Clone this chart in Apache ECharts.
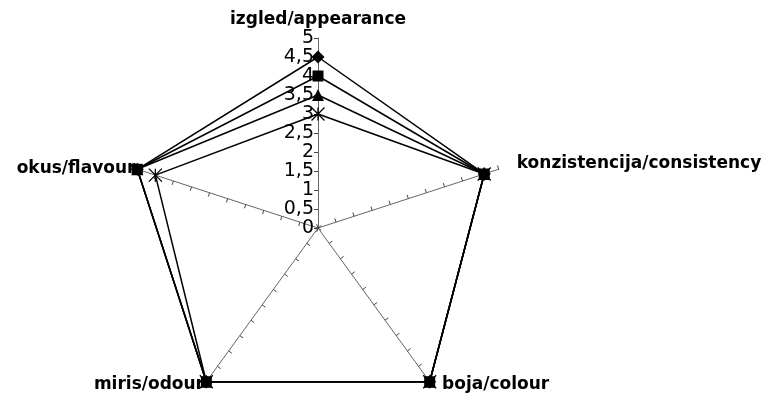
<!DOCTYPE html>
<html>
<head>
<meta charset="utf-8">
<script src="https://cdn.jsdelivr.net/npm/echarts@6/dist/echarts.min.js"></script>
<style>
  html, body { margin: 0; padding: 0; background: #fff; }
  #main { width: 776px; height: 400px; }
</style>
</head>
<body>
<div id="main"></div>
<script>
// indicator order: ECharts goes counterclockwise from the top
const indicatorNames = ['izgled/appearance', 'okus/flavour', 'miris/odour', 'boja/colour', 'konzistencija/consistency'];
const nameGaps = [10, 2, 4, 4, 19];

// values per series, same order as indicatorNames
const seriesDiamond = [4.5, 5, 5, 5, 4.6];
const seriesSquare = [4, 5, 5, 5, 4.6];
const seriesTriangle = [3.5, 5, 5, 5, 4.6];
const seriesStar = [3, 4.5, 5, 5, 4.6];

const axisMax = 5;

var chart = echarts.init(document.getElementById('main'));

// asterisk made of strokes only
const starPath = 'path://M0,0L10,10M10,0L0,10M5,0L5,10';

var indicators = indicatorNames.map(function (n, i) {
  var ind = { name: n, min: 0, max: axisMax, nameGap: nameGaps[i] };
  if (i > 0) {
    ind.axisLabel = { show: false };  // only the top spoke has numbers
  }
  if (i == 3) {
    ind.nameTextStyle = { padding: [0, 0, 0, 10] };
  }
  if (i == 4) {
    ind.nameTextStyle = { padding: [10, 0, 0, 0] };
  }
  return ind;
});

function makeSeries(values, symbol, size, extra) {
  var itemStyle = { color: '#000' };
  if (extra) {
    itemStyle = { color: '#000', borderColor: '#000', borderWidth: 1.3 };
  }
  return {
    value: values,
    symbol: symbol,
    symbolSize: size,
    itemStyle: itemStyle,
    lineStyle: { color: '#000', width: 1.5 }
  };
}

var option = {
  backgroundColor: '#fff',
  animation: false,
  radar: {
    center: [318, 228],
    radius: 190,
    splitNumber: 10,
    shape: 'polygon',
    axisName: {
      color: '#000',
      fontFamily: 'DejaVu Sans',
      fontWeight: 'bold',
      fontSize: 17
    },
    axisLine: { show: true, lineStyle: { color: '#666', width: 1 } },
    axisTick: { show: true, length: 4, lineStyle: { color: '#444' } },
    axisLabel: {
      show: true,
      color: '#000',
      fontFamily: 'DejaVu Sans',
      fontSize: 19,
      margin: 4,
      formatter: function (v) { return String(v).replace('.', ','); }
    },
    splitLine: { show: false },
    splitArea: { show: false },
    indicator: indicators
  },
  series: [{
    type: 'radar',
    silent: true,
    data: [
      makeSeries(seriesDiamond, 'diamond', 13),
      makeSeries(seriesSquare, 'rect', 11),
      makeSeries(seriesTriangle, 'triangle', 12),
      makeSeries(seriesStar, starPath, 13, true)
    ]
  }]
};

chart.setOption(option);
</script>
</body>
</html>
